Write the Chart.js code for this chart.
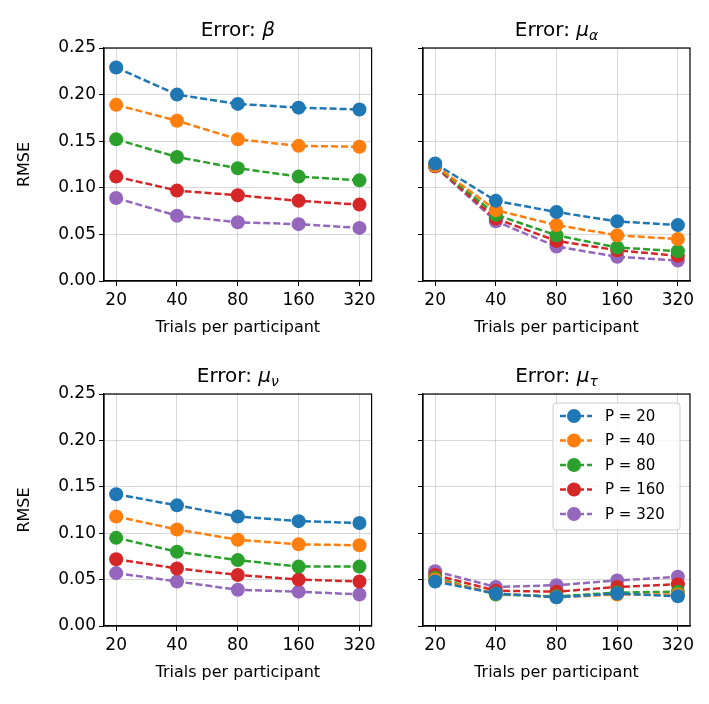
<!DOCTYPE html>
<html>
<head>
<meta charset="utf-8">
<script src="https://cdn.jsdelivr.net/npm/chart.js@4"></script>
<style>
  body { margin: 0; background: #fff; width: 709px; height: 704px; position: relative; overflow: hidden; }
  .box { position: absolute; }
</style>
</head>
<body>
<div class="box" style="left:0;top:0;width:380px;height:341px"><canvas id="c0"></canvas></div>
<div class="box" style="left:380px;top:0;width:329px;height:341px"><canvas id="c1"></canvas></div>
<div class="box" style="left:0;top:346px;width:380px;height:340px"><canvas id="c2"></canvas></div>
<div class="box" style="left:380px;top:346px;width:329px;height:340px"><canvas id="c3"></canvas></div>
<script>
const trials = [20, 40, 80, 160, 320];
const participants = ['P = 20', 'P = 40', 'P = 80', 'P = 160', 'P = 320'];
const colors = ['#1f77b4', '#ff7f0e', '#2ca02c', '#d62728', '#9467bd'];
const yTicks = [0, 0.05, 0.10, 0.15, 0.20, 0.25];

// RMSE per panel, one row per participant count
const errBeta = [
  [0.229, 0.200, 0.190, 0.186, 0.184],
  [0.189, 0.172, 0.152, 0.145, 0.144],
  [0.152, 0.133, 0.121, 0.112, 0.108],
  [0.112, 0.097, 0.092, 0.086, 0.082],
  [0.089, 0.070, 0.063, 0.061, 0.057]
];
const errAlpha = [
  [0.126, 0.086, 0.074, 0.064, 0.060],
  [0.124, 0.076, 0.060, 0.049, 0.045],
  [0.124, 0.071, 0.049, 0.036, 0.032],
  [0.123, 0.067, 0.043, 0.033, 0.027],
  [0.123, 0.064, 0.037, 0.026, 0.022]
];
const errNu = [
  [0.142, 0.130, 0.118, 0.113, 0.111],
  [0.118, 0.104, 0.093, 0.088, 0.087],
  [0.095, 0.080, 0.071, 0.064, 0.064],
  [0.072, 0.062, 0.055, 0.050, 0.048],
  [0.057, 0.048, 0.039, 0.037, 0.034]
];
const errTau = [
  [0.048, 0.035, 0.031, 0.035, 0.032],
  [0.050, 0.035, 0.031, 0.034, 0.034],
  [0.052, 0.034, 0.032, 0.036, 0.037],
  [0.055, 0.038, 0.037, 0.042, 0.045],
  [0.059, 0.042, 0.044, 0.049, 0.053]
];

const FONT = "'DejaVu Sans', sans-serif";

// title like "Error: β" with italic symbol and optional subscript, plus frame and RMSE label
function decoPlugin(sym, sub, leftCol) {
  return {
    id: 'deco',
    afterDraw(chart) {
      const c = chart.ctx, a = chart.chartArea;
      c.save();
      c.strokeStyle = '#000';
      c.lineWidth = 1.2;
      c.strokeRect(a.left, a.top, a.right - a.left, a.bottom - a.top);
      c.fillStyle = '#000';
      c.textBaseline = 'alphabetic';
      const base = 'Error: ';
      c.font = '20px ' + FONT;
      const w1 = c.measureText(base).width;
      c.font = 'italic 20px ' + FONT;
      const w2 = c.measureText(sym).width;
      let w3 = 0;
      if (sub) { c.font = 'italic 14px ' + FONT; w3 = c.measureText(sub).width; }
      let x = (a.left + a.right) / 2 - (w1 + w2 + w3) / 2;
      const y = a.top - 12;
      c.textAlign = 'left';
      c.font = '20px ' + FONT; c.fillText(base, x, y); x += w1;
      c.font = 'italic 20px ' + FONT; c.fillText(sym, x, y); x += w2;
      if (sub) { c.font = 'italic 14px ' + FONT; c.fillText(sub, x, y + 4); }
      if (leftCol) {
        c.translate(25, (a.top + a.bottom) / 2);
        c.rotate(-Math.PI / 2);
        c.textAlign = 'center';
        c.textBaseline = 'middle';
        c.font = '16px ' + FONT;
        c.fillText('RMSE', 0, 0);
      }
      c.restore();
    }
  };
}

const legendPlugin = {
  id: 'inlegend',
  afterDraw(chart) {
    const c = chart.ctx, a = chart.chartArea;
    const bx = a.right - 137, by = a.top + 9, bw = 127, bh = 127;
    c.save();
    c.fillStyle = 'rgba(255,255,255,0.8)';
    c.strokeStyle = '#cccccc';
    c.lineWidth = 1;
    c.beginPath();
    c.roundRect(bx, by, bw, bh, 3);
    c.fill(); c.stroke();
    participants.forEach((p, i) => {
      const y = by + 13 + i * 24.5;
      c.strokeStyle = colors[i];
      c.lineWidth = 2.5;
      c.setLineDash([6, 3]);
      c.beginPath(); c.moveTo(bx + 7, y); c.lineTo(bx + 39, y); c.stroke();
      c.setLineDash([]);
      c.fillStyle = colors[i];
      c.beginPath(); c.arc(bx + 21, y, 7, 0, Math.PI * 2); c.fill();
      c.fillStyle = '#000';
      c.font = '15px ' + FONT;
      c.textBaseline = 'middle';
      c.fillText(p, bx + 52, y + 1);
    });
    c.restore();
  }
};

function makeChart(id, rows, sym, sub, leftCol, legend) {
  const datasets = rows.map((r, i) => ({
    label: participants[i],
    data: trials.map((t, j) => ({ x: t, y: r[j] })),
    borderColor: colors[i],
    backgroundColor: colors[i],
    borderWidth: 2.5,
    borderDash: [7, 3],
    pointRadius: 7,
    pointHoverRadius: 7,
    pointBorderWidth: 0
  }));
  const plugins = [decoPlugin(sym, sub, leftCol)];
  if (legend) plugins.push(legendPlugin);
  return new Chart(document.getElementById(id), {
    type: 'line',
    data: { datasets },
    plugins,
    options: {
      responsive: true,
      maintainAspectRatio: false,
      animation: false,
      layout: { padding: { top: 48, right: leftCol ? 6 : 19, left: 0, bottom: 0 } },
      plugins: { legend: { display: false }, tooltip: { enabled: false } },
      scales: {
        x: {
          type: 'logarithmic',
          min: 20 / Math.pow(2, 0.2),
          max: 320 * Math.pow(2, 0.2),
          afterBuildTicks(ax) { ax.ticks = trials.map(v => ({ value: v })); },
          afterFit(ax) { ax.height = 60; },
          ticks: { color: '#000', font: { family: FONT, size: 17 }, padding: 4, callback: v => String(v), maxRotation: 0, autoSkip: false },
          grid: { color: 'rgba(0,0,0,0.15)', tickColor: '#000', tickLength: 5 },
          border: { color: '#000', width: 1.2 },
          title: { display: true, text: 'Trials per participant', color: '#000', font: { family: FONT, size: 16 }, padding: { top: 0 } }
        },
        y: {
          min: 0, max: 0.25,
          afterBuildTicks(ax) { ax.ticks = yTicks.map(v => ({ value: v })); },
          afterFit(ax) { ax.width = leftCol ? 104 : 43; },
          ticks: { display: leftCol, color: '#000', font: { family: FONT, size: 17 }, callback: v => v.toFixed(2) },
          grid: { color: 'rgba(0,0,0,0.15)', tickColor: '#000', tickLength: 5 },
          border: { color: '#000', width: 1.2 }
        }
      }
    }
  });
}

makeChart('c0', errBeta, 'β', '', true, false);
makeChart('c1', errAlpha, 'μ', 'α', false, false);
makeChart('c2', errNu, 'μ', 'ν', true, false);
makeChart('c3', errTau, 'μ', 'τ', false, true);
</script>
</body>
</html>
